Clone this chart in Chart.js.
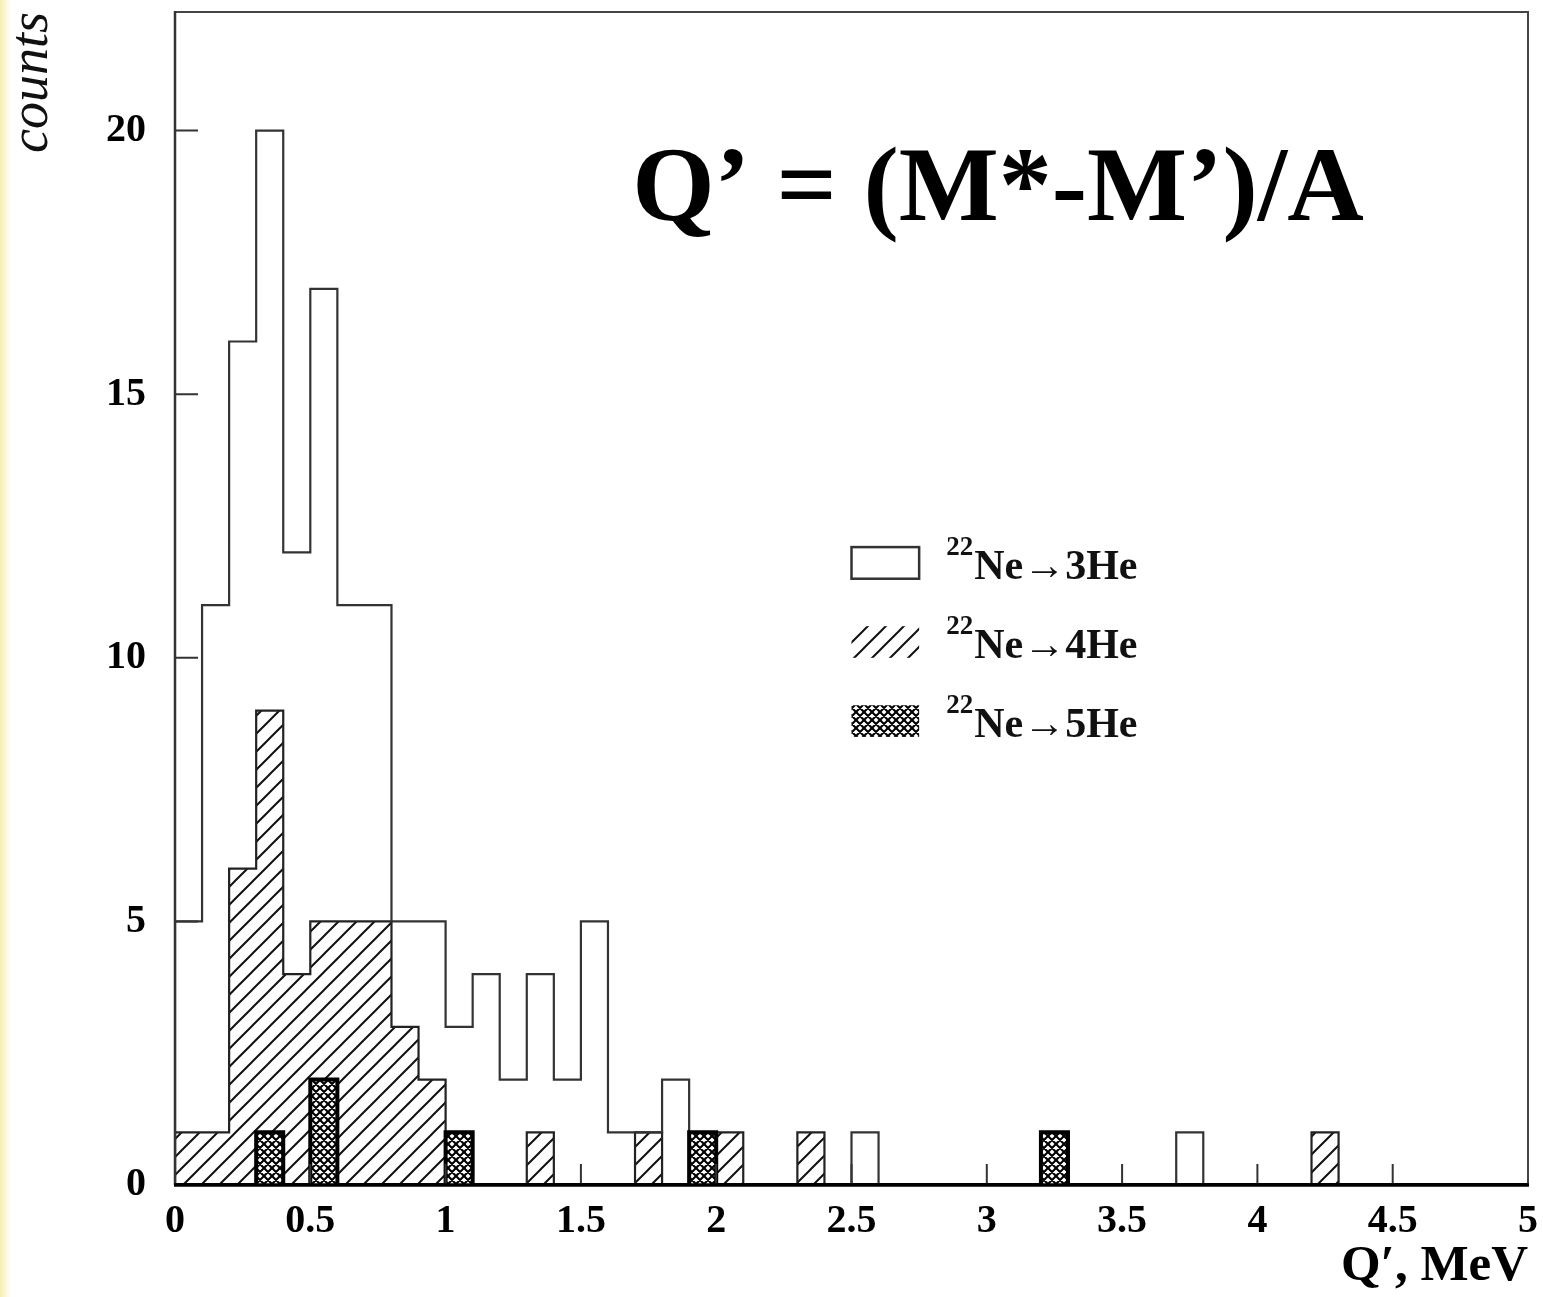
<!DOCTYPE html>
<html>
<head>
<meta charset="utf-8">
<script src="https://cdn.jsdelivr.net/npm/chart.js@4.4.0/dist/chart.umd.min.js"></script>
<style>
html, body { margin: 0; padding: 0; }
body {
  width: 1543px; height: 1297px; overflow: hidden;
  background: linear-gradient(to right, #f6ecb0 0px, #fbf6d8 5px, #ffffff 11px);
}
#wrap { position: relative; width: 1543px; height: 1297px; }
</style>
</head>
<body>
<div id="wrap"><canvas id="c"></canvas></div>
<script>
// ---- data ----
const binEdges = [0.0,0.1,0.2,0.3,0.4,0.5,0.6,0.7,0.8,0.9,
                  1.0,1.1,1.2,1.3,1.4,1.5,1.6,1.7,1.8,1.9,
                  2.0,2.1,2.2,2.3,2.4,2.5,2.6,2.7,2.8,2.9,
                  3.0,3.1,3.2,3.3,3.4,3.5,3.6,3.7,3.8,3.9,
                  4.0,4.1,4.2,4.3,4.4,4.5,4.6,4.7,4.8,4.9,5.0];
const he3Counts = [5,11,16,20,12,17,11,11,5,5,
                   3,4,2,4,2,5,1,1,2,0,
                   0,0,0,0,0,1,0,0,0,0,
                   0,0,0,0,0,0,0,1,0,0,
                   0,0,0,0,0,0,0,0,0,0];
const he4Counts = [1,1,6,9,4,5,5,5,3,2,
                   0,0,0,1,0,0,0,1,0,0,
                   1,0,0,1,0,0,0,0,0,0,
                   0,0,0,0,0,0,0,0,0,0,
                   0,0,1,0,0,0,0,0,0,0];
const he5Counts = [0,0,0,1,0,2,0,0,0,0,
                   1,0,0,0,0,0,0,0,0,1,
                   0,0,0,0,0,0,0,0,0,0,
                   0,0,1,0,0,0,0,0,0,0,
                   0,0,0,0,0,0,0,0,0,0];
const legendMass = '22';
const legendLabels = ['Ne\u21923He', 'Ne\u21924He', 'Ne\u21925He'];
const xTickLabels = ['0','0.5','1','1.5','2','2.5','3','3.5','4','4.5','5'];
const yTickLabels = ['0','5','10','15','20'];
const chartTitle = 'Q\u2019 = (M*-M\u2019)/A';
const xAxisTitle = 'Q\u2032, MeV';
const yAxisTitle = 'counts';

// ---- helpers ----
function stepPoints(counts) {
  const pts = [{x: binEdges[0], y: 0}];
  counts.forEach((c, i) => pts.push({x: binEdges[i], y: c}));
  pts.push({x: binEdges[counts.length], y: 0});
  return pts;
}
function makeHatch() {
  const s = 18, c = document.createElement('canvas');
  c.width = s; c.height = s;
  const g = c.getContext('2d');
  g.fillStyle = '#fff'; g.fillRect(0, 0, s, s);
  g.strokeStyle = '#111'; g.lineWidth = 2;
  g.beginPath();
  g.moveTo(-3, s + 3); g.lineTo(s + 3, -3);
  g.moveTo(-3, 3); g.lineTo(3, -3);
  g.moveTo(s - 3, s + 3); g.lineTo(s + 3, s - 3);
  g.stroke();
  return g.createPattern(c, 'repeat');
}
function makeCross() {
  const s = 8, c = document.createElement('canvas');
  c.width = s; c.height = s;
  const g = c.getContext('2d');
  g.fillStyle = '#fff'; g.fillRect(0, 0, s, s);
  g.strokeStyle = '#000'; g.lineWidth = 2.1;
  g.beginPath();
  g.moveTo(-2, s + 2); g.lineTo(s + 2, -2);
  g.moveTo(-2, 2); g.lineTo(2, -2);
  g.moveTo(s - 2, s + 2); g.lineTo(s + 2, s - 2);
  g.moveTo(-2, -2); g.lineTo(s + 2, s + 2);
  g.moveTo(s - 2, -2); g.lineTo(s + 2, 2);
  g.moveTo(-2, s - 2); g.lineTo(2, s + 2);
  g.stroke();
  return g.createPattern(c, 'repeat');
}
const hatchPattern = makeHatch();
const crossPattern = makeCross();
const SERIF = '"Liberation Serif", "Times New Roman", serif';

// ---- decorations: frame, inward ticks, legend, formula ----
const decor = {
  id: 'decor',
  afterDatasetsDraw(chart) {
    const {ctx, chartArea: a, scales: {x, y}} = chart;
    ctx.save();
    // inward ticks
    ctx.strokeStyle = '#333'; ctx.lineWidth = 2;
    ctx.beginPath();
    x.ticks.forEach(t => { const p = x.getPixelForValue(t.value); ctx.moveTo(p, a.bottom); ctx.lineTo(p, a.bottom - 21); });
    y.ticks.forEach(t => { const p = y.getPixelForValue(t.value); ctx.moveTo(a.left, p); ctx.lineTo(a.left + 23, p); });
    ctx.stroke();
    // frame
    ctx.strokeStyle = '#444'; ctx.lineWidth = 2;
    ctx.beginPath(); ctx.moveTo(a.left, a.top); ctx.lineTo(a.right, a.top); ctx.lineTo(a.right, a.bottom); ctx.stroke();
    ctx.strokeStyle = '#333'; ctx.lineWidth = 2.5;
    ctx.beginPath(); ctx.moveTo(a.left, a.top - 1); ctx.lineTo(a.left, a.bottom); ctx.stroke();
    ctx.strokeStyle = '#000'; ctx.lineWidth = 3.5;
    ctx.beginPath(); ctx.moveTo(a.left - 1, a.bottom); ctx.lineTo(a.right + 1, a.bottom); ctx.stroke();

    // legend
    const rowsY = [11.5, 10.0, 8.5];
    const fills = [null, hatchPattern, crossPattern];
    const bx0 = x.getPixelForValue(2.5), bx1 = x.getPixelForValue(2.75);
    const tx = x.getPixelForValue(2.85);
    rowsY.forEach((v, i) => {
      const base = y.getPixelForValue(v);
      const top = y.getPixelForValue(v + 0.6);
      if (i === 0) {
        ctx.fillStyle = '#fff'; ctx.fillRect(bx0, top, bx1 - bx0, base - top);
        ctx.strokeStyle = '#333'; ctx.lineWidth = 2.5;
        ctx.strokeRect(bx0, top, bx1 - bx0, base - top);
      } else {
        ctx.fillStyle = fills[i]; ctx.fillRect(bx0, top, bx1 - bx0, base - top);
      }
      ctx.fillStyle = '#111';
      ctx.textAlign = 'left'; ctx.textBaseline = 'alphabetic';
      ctx.font = 'bold 27px ' + SERIF;
      ctx.fillText(legendMass, tx, base - 24);
      const w = ctx.measureText(legendMass).width;
      ctx.font = 'bold 42px ' + SERIF;
      ctx.fillText(legendLabels[i], tx + w + 1, base);
    });

    // formula
    ctx.fillStyle = '#000';
    ctx.font = 'bold 106px ' + SERIF;
    ctx.textAlign = 'left'; ctx.textBaseline = 'alphabetic';
    ctx.fillText(chartTitle, x.getPixelForValue(1.69), y.getPixelForValue(18.31));
    ctx.restore();
  }
};

new Chart(document.getElementById('c'), {
  type: 'line',
  data: {
    datasets: [
      { label: legendMass + legendLabels[0], data: stepPoints(he3Counts), stepped: true,
        borderColor: '#333', borderWidth: 2.2, fill: false, pointRadius: 0, order: 1 },
      { label: legendMass + legendLabels[1], data: stepPoints(he4Counts), stepped: true,
        borderColor: '#222', borderWidth: 2.2, backgroundColor: hatchPattern, fill: 'origin', pointRadius: 0, order: 2 },
      { label: legendMass + legendLabels[2], data: stepPoints(he5Counts), stepped: true,
        borderColor: '#000', borderWidth: 4, backgroundColor: crossPattern, fill: 'origin', pointRadius: 0, order: 0 }
    ]
  },
  options: {
    responsive: true,
    maintainAspectRatio: false,
    animation: false,
    layout: { padding: { top: 12, right: 15, left: 0, bottom: 0 } },
    plugins: { legend: { display: false }, tooltip: { enabled: false } },
    elements: { line: { tension: 0, borderJoinStyle: 'miter', borderCapStyle: 'butt' } },
    scales: {
      x: {
        type: 'linear', position: 'bottom', min: 0, max: 5,
        grid: { display: false, drawTicks: false },
        border: { display: false },
        ticks: {
          stepSize: 0.5, autoSkip: false, maxRotation: 0, padding: 13,
          color: '#000', font: { family: SERIF, size: 40, weight: 'bold' },
          callback: (v, i) => xTickLabels[i]
        },
        title: { display: true, text: xAxisTitle, align: 'end', color: '#000', padding: { top: 0, bottom: 0 },
                 font: { family: SERIF, size: 51, weight: 'bold' } },
        afterFit: s => { s.height = 112; s.paddingLeft = 0; s.paddingRight = 0; }
      },
      y: {
        type: 'linear', min: 0, max: 22.25,
        grid: { display: false, drawTicks: false },
        border: { display: false },
        ticks: {
          stepSize: 5, includeBounds: false, padding: 29,
          color: '#000', font: { family: SERIF, size: 40, weight: 'bold' },
          callback: (v, i) => yTickLabels[i]
        },
        title: { display: true, text: yAxisTitle, align: 'end', color: '#111', padding: { top: 0, bottom: 0 },
                 font: { family: SERIF, size: 54, style: 'italic', weight: 'normal' } },
        afterFit: s => { s.width = 175; s.paddingTop = 0; s.paddingBottom = 0; }
      }
    }
  },
  plugins: [decor]
});
</script>
</body>
</html>
